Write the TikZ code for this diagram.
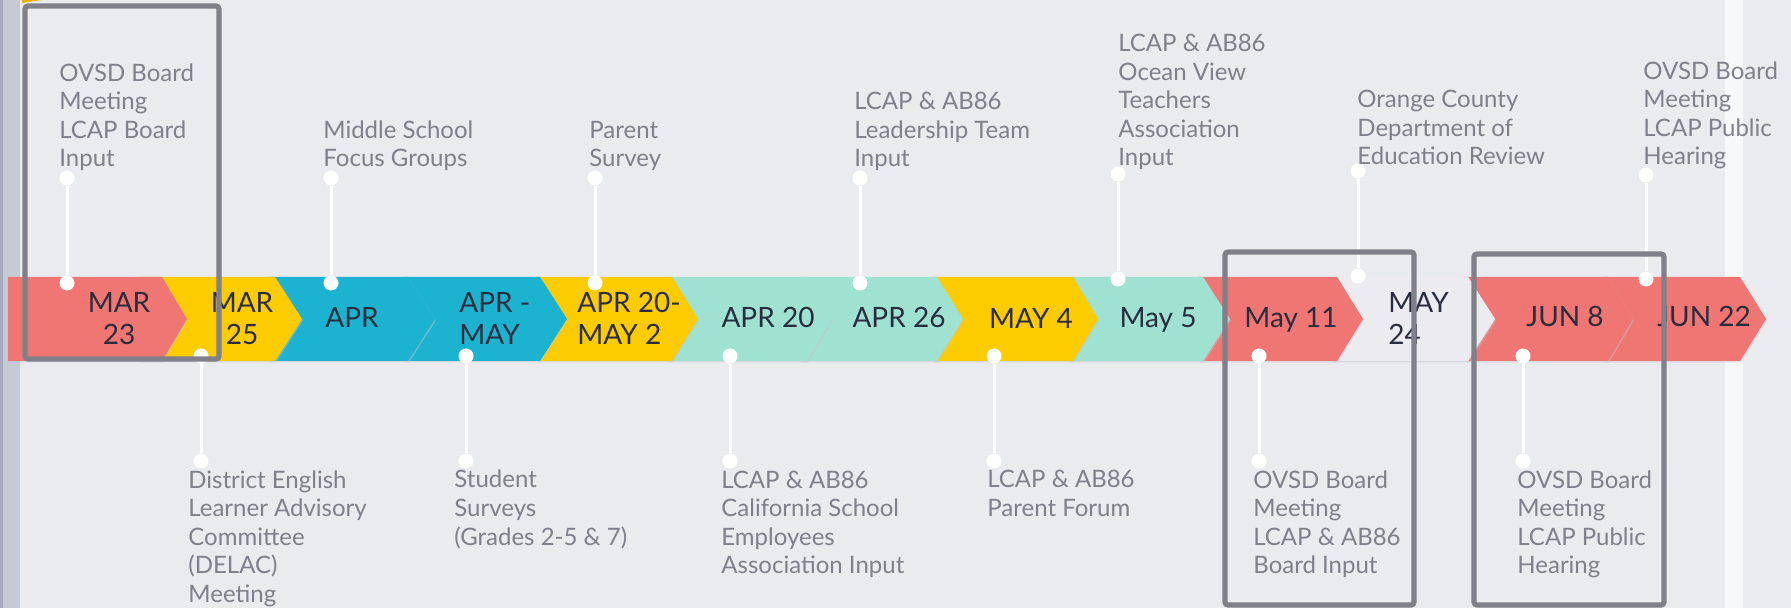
\documentclass[tikz,border=0pt]{standalone}
\usepackage{fontspec}
\setmainfont{Lato}
\definecolor{bg}{HTML}{EAEBEF}
\definecolor{stripL}{HTML}{C6CAD5}
\definecolor{stripLd}{HTML}{A4AABC}
\definecolor{stripR}{HTML}{F7F8FA}
\definecolor{salmon}{HTML}{EF7672}
\definecolor{yel}{HTML}{FDCC00}
\definecolor{ydark}{HTML}{E6B400}
\definecolor{cyanc}{HTML}{1CB3D1}
\definecolor{mint}{HTML}{9FE2D1}
\definecolor{pale}{HTML}{ECECF0}
\definecolor{datec}{HTML}{2A2D3E}
\definecolor{lblc}{HTML}{7E808B}
\definecolor{boxc}{HTML}{7F8089}
\definecolor{shadowc}{HTML}{C4C5CC}
\newcommand\mychev[5]{%
  \fill[shadowc,opacity=0.45] (#1+1,278.5) -- (#2+1,278.5) -- (#3+1,320.5) -- (#2+1,362.5) -- (#1+1,362.5) -- (#1+#5+1,320.5) -- cycle;
  \fill[#4] (#1,277) -- (#2,277) -- (#3,319) -- (#2,361) -- (#1,361) -- (#1+#5,319) -- cycle;}
\begin{document}
\begin{tikzpicture}[x=0.5pt,y=-0.5pt,
  datetxt/.style={inner sep=0pt,text=datec,font=\fontsize{14}{16}\selectfont},
  lbl/.style={inner sep=0pt,text=lblc,align=left,font=\fontsize{12}{14.25}\selectfont},
  dot/.style={circle,fill=white,inner sep=0pt,minimum size=7.5pt},
  conn/.style={draw=white,line width=1.5pt},
  hbox/.style={draw=boxc,line width=2.6pt,rounded corners=1.5pt}]
\useasboundingbox (0,0) rectangle (1791,608);
\fill[bg] (0,0) rectangle (1791,608);
\fill[stripR] (1725,0) rectangle (1743,608);
\fill[stripL] (0,0) rectangle (20,608);
\fill[stripLd] (0,0) rectangle (3,608);
\fill[ydark] (22,0) -- (62,0) arc[start angle=90,end angle=-90,radius=1.5] -- (22,3) -- cycle;
% chevrons, drawn right to left
\mychev{1603}{1740}{1766}{salmon}{25}
\mychev{1463}{1608}{1633}{salmon}{25}
\mychev{1332}{1468}{1495}{pale}{25}
\mychev{1198}{1337}{1363}{salmon}{25}
\mychev{1068}{1203}{1230}{mint}{25}
\mychev{932}{1073}{1098}{yel}{25}
\mychev{800}{937}{963}{mint}{25}
\mychev{667}{807}{832}{mint}{25}
\mychev{535}{672}{698}{yel}{25}
\mychev{403}{540}{567}{cyanc}{25}
\mychev{268}{408}{435}{cyanc}{25}
\mychev{140}{275}{302}{yel}{25}
\mychev{8}{162}{187}{salmon}{0}
% dates (base = last line baseline)
\node[datetxt,align=center,anchor=base] (d1) at (119,345) {MAR\\23};
\node[datetxt,align=center,anchor=base] (d2) at (242,345) {MAR\\25};
\node[datetxt,anchor=base] (d3) at (352,328) {APR};
\node[datetxt,align=left,anchor=base west] (d4) at (459,345) {APR -\\MAY};
\node[datetxt,align=left,anchor=base west] (d5) at (577,345) {APR 20-\\MAY 2};
\node[datetxt,anchor=base] (d6) at (768,328) {APR 20};
\node[datetxt,anchor=base] (d7) at (899,328) {APR 26};
\node[datetxt,anchor=base] (d8) at (1031,329) {MAY 4};
\node[datetxt,anchor=base] (d9) at (1158,328) {May 5};
\node[datetxt,anchor=base] (d10) at (1291,328) {May 11};
\node[datetxt,align=left,anchor=base west] (d11) at (1388,345) {MAY\\24};
\node[datetxt,anchor=base] (d12) at (1565,327) {JUN 8};
\node[datetxt,anchor=base] (d13) at (1704,327) {JUN 22};
% dots and connectors (top)
\node[dot] (t1) at (67,178) {};   \node[dot] (u1) at (67,283) {};
\node[dot] (t2) at (331,178) {};  \node[dot] (u2) at (331,283) {};
\node[dot] (t3) at (595,178) {};  \node[dot] (u3) at (595,283) {};
\node[dot] (t4) at (860,178) {};  \node[dot] (u4) at (860,283) {};
\node[dot] (t5) at (1118,174) {}; \node[dot] (u5) at (1118,279) {};
\node[dot] (t6) at (1358,171) {}; \node[dot] (u6) at (1358,276) {};
\node[dot] (t7) at (1646,175) {}; \node[dot] (u7) at (1646,279) {};
\foreach \i in {1,...,7} {\draw[conn] (t\i) -- (u\i);}
% dots and connectors (bottom)
\node[dot] (v1) at (201,356) {};  \node[dot] (w1) at (201,461) {};
\node[dot] (v2) at (466,356) {};  \node[dot] (w2) at (466,461) {};
\node[dot] (v3) at (730,356) {};  \node[dot] (w3) at (730,461) {};
\node[dot] (v4) at (994,356) {};  \node[dot] (w4) at (994,461) {};
\node[dot] (v5) at (1259,356) {}; \node[dot] (w5) at (1259,461) {};
\node[dot] (v6) at (1523,356) {}; \node[dot] (w6) at (1523,461) {};
\foreach \i in {1,...,6} {\draw[conn] (v\i) -- (w\i);}
% labels top (base = last line baseline)
\node[lbl,anchor=base west] (l1) at (59,167) {OVSD Board\\Meeting\\LCAP Board\\Input};
\node[lbl,anchor=base west] (l2) at (323,167) {Middle School\\Focus Groups};
\node[lbl,anchor=base west] (l3) at (589,167) {Parent\\Survey};
\node[lbl,anchor=base west] (l4) at (854,167) {LCAP \& AB86\\Leadership Team\\Input};
\node[lbl,anchor=base west] (l5) at (1118,166) {LCAP \& AB86\\Ocean View\\Teachers\\Association\\Input};
\node[lbl,anchor=base west] (l6) at (1357,165) {Orange County\\Department of\\Education Review};
\node[lbl,anchor=base west] (l7) at (1643,165) {OVSD Board\\Meeting\\LCAP Public\\Hearing};
% labels bottom
\node[lbl,anchor=base west] (m1) at (188,602) {District English\\Learner Advisory\\Committee\\(DELAC)\\Meeting};
\node[lbl,anchor=base west] (m2) at (454,545) {Student\\Surveys\\(Grades 2-5 \& 7)};
\node[lbl,anchor=base west] (m3) at (721,573.5) {LCAP \& AB86\\California School\\Employees\\Association Input};
\node[lbl,anchor=base west] (m4) at (987,516.5) {LCAP \& AB86\\Parent Forum};
\node[lbl,anchor=base west] (m5) at (1253,573.5) {OVSD Board\\Meeting\\LCAP \& AB86\\Board Input};
\node[lbl,anchor=base west] (m6) at (1517,573.5) {OVSD Board\\Meeting\\LCAP Public\\Hearing};
% highlight boxes
\draw[hbox] (25,6) rectangle (219,359);
\draw[hbox] (1225,252) rectangle (1414,605);
\draw[hbox] (1474,254) rectangle (1664,605);
\end{tikzpicture}
\end{document}
